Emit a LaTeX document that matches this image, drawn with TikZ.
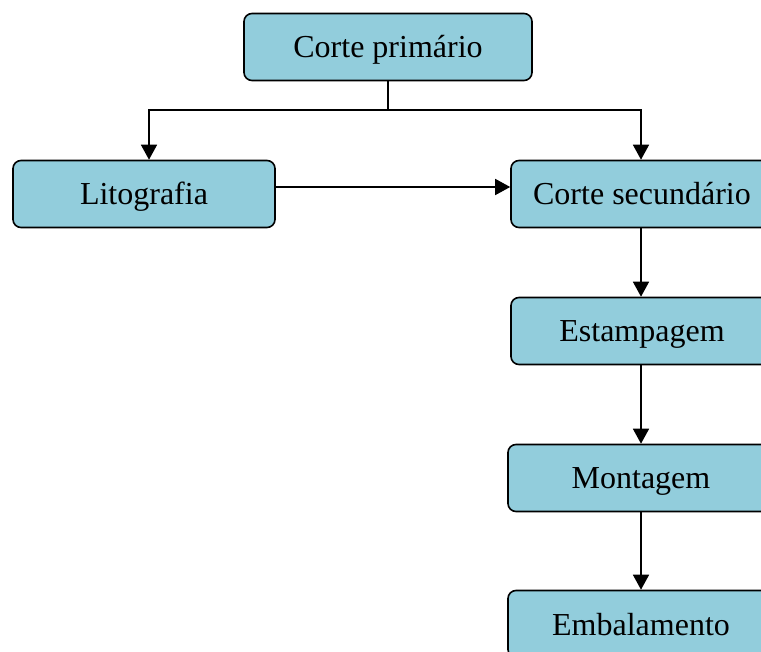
\documentclass[tikz,border=0pt]{standalone}
\usepackage{fontspec}
\setmainfont{Liberation Serif}
\usetikzlibrary{arrows.meta}
\definecolor{boxfill}{HTML}{92CDDC}
\begin{document}
\begin{tikzpicture}[x=1pt,y=-1pt,
  box/.style={draw=black, line width=1.6pt, fill=boxfill, rounded corners=8pt,
    minimum height=67pt, inner sep=0pt, text=black,
    text height=22pt, text depth=0pt,
    font=\fontsize{32}{36}\selectfont},
  wire/.style={line width=1.6pt},
  link/.style={wire, -{Triangle[length=15pt,width=16pt]}}]
\useasboundingbox (0,0) rectangle (761,652);
\clip (0,0) rectangle (761,652);

% process steps
\node[box, minimum width=288pt] (primario)   at (388,47)  {Corte primário};
\node[box, minimum width=262pt] (lito)       at (144,194) {Litografia};
\node[box, minimum width=262pt] (secundario) at (642,194) {Corte secundário};
\node[box, minimum width=262pt] (estamp)     at (642,331) {Estampagem};
\node[box, minimum width=266pt] (montagem)   at (641,478) {Montagem};
\node[box, minimum width=266pt] (embal)      at (641,624) {Embalamento};

% split below the first step
\draw[wire] (primario.south) -- (primario.south |- 0,110) coordinate (split);
\draw[link] (split) -| ([xshift=5pt]lito.north);
\draw[link] (split) -| (secundario.north -| 641,0);

% lithography feeds the secondary cut
\draw[link] (lito.east |- 0,187) -- (secundario.west |- 0,187);

% main line downwards
\draw[link] (secundario.south -| 641,0) -- (estamp.north -| 641,0);
\draw[link] (estamp.south -| 641,0) -- (montagem.north -| 641,0);
\draw[link] (montagem.south -| 641,0) -- (embal.north -| 641,0);
\end{tikzpicture}
\end{document}
